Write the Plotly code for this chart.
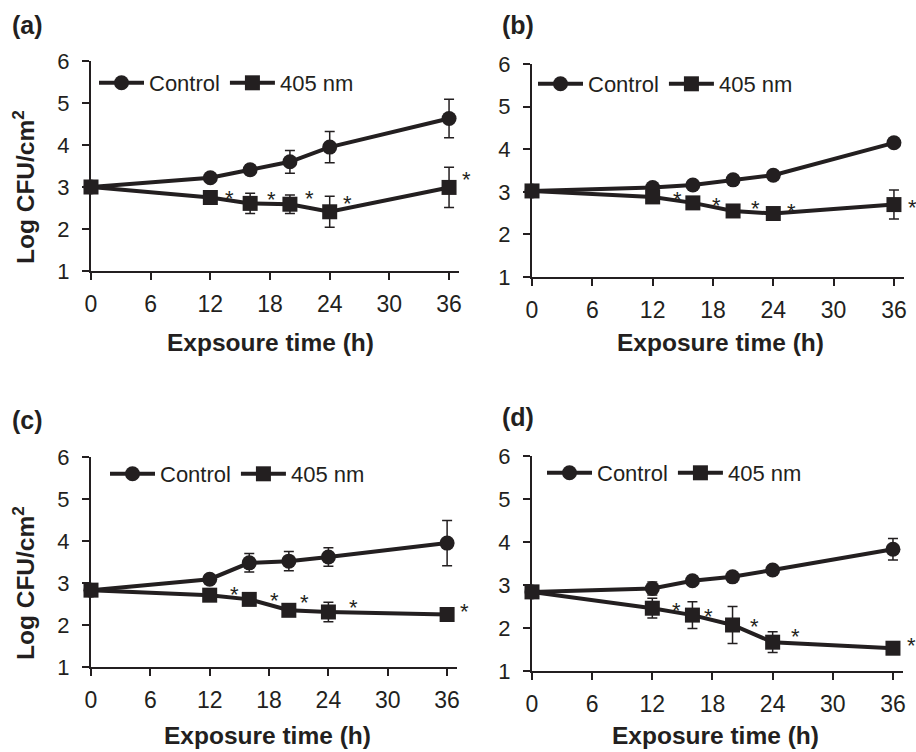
import plotly.graph_objects as go

W, H = 916, 752
FONT = "Arial, Liberation Sans, sans-serif"
INK = "#231F20"

hours = [0, 12, 16, 20, 24, 36]
x_ticks = [0, 6, 12, 18, 24, 30, 36]
y_ticks = [1, 2, 3, 4, 5, 6]

# panel (a)
a_ctrl = [3.00, 3.22, 3.41, 3.60, 3.95, 4.63]
a_ctrl_err = [0.0, 0.10, 0.12, 0.27, 0.37, 0.46]
a_blue = [3.00, 2.75, 2.61, 2.59, 2.41, 2.99]
a_blue_err = [0.0, 0.12, 0.24, 0.22, 0.37, 0.48]
a_star_x = [13.9, 18.1, 22.0, 25.8, 37.8]
a_star_y = [2.86, 2.84, 2.86, 2.76, 3.33]

# panel (b)
b_ctrl = [3.02, 3.10, 3.16, 3.28, 3.39, 4.15]
b_ctrl_err = [0.0, 0.08, 0.08, 0.08, 0.08, 0.10]
b_blue = [3.02, 2.88, 2.74, 2.55, 2.49, 2.70]
b_blue_err = [0.0, 0.08, 0.10, 0.12, 0.10, 0.34]
b_star_x = [14.45, 18.4, 22.2, 25.8, 37.8]
b_star_y = [2.97, 2.83, 2.74, 2.67, 2.77]

# panel (c)
c_ctrl = [2.83, 3.09, 3.48, 3.52, 3.62, 3.95]
c_ctrl_err = [0.0, 0.10, 0.22, 0.23, 0.22, 0.54]
c_blue = [2.83, 2.71, 2.61, 2.35, 2.31, 2.25]
c_blue_err = [0.0, 0.10, 0.10, 0.10, 0.23, 0.10]
c_star_x = [14.5, 18.5, 21.6, 26.5, 37.8]
c_star_y = [2.87, 2.73, 2.67, 2.56, 2.47]

# panel (d)
d_ctrl = [2.84, 2.92, 3.10, 3.19, 3.35, 3.83]
d_ctrl_err = [0.0, 0.15, 0.10, 0.10, 0.10, 0.25]
d_blue = [2.84, 2.46, 2.30, 2.07, 1.67, 1.53]
d_blue_err = [0.0, 0.23, 0.31, 0.43, 0.24, 0.10]
d_star_x = [14.4, 17.6, 22.2, 26.3, 37.85]
d_star_y = [2.55, 2.41, 2.18, 1.95, 1.74]

X_MAX = 37

panels = [
    dict(tag="(a)", ctrl=a_ctrl, ce=a_ctrl_err, blue=a_blue, be=a_blue_err,
         sx=a_star_x, sy=a_star_y, xt="Expsoure time (h)",
         xpx=(91, 459), ypx=(61, 271), tagpos=(27, 25), xtpos=(270, 342),
         ytpos=(23, 187), legpos=(94, 83)),
    dict(tag="(b)", ctrl=b_ctrl, ce=b_ctrl_err, blue=b_blue, be=b_blue_err,
         sx=b_star_x, sy=b_star_y, xt="Exposure time (h)",
         xpx=(532, 904), ypx=(64, 277), tagpos=(518, 25), xtpos=(720, 342),
         ytpos=None, legpos=(533, 84)),
    dict(tag="(c)", ctrl=c_ctrl, ce=c_ctrl_err, blue=c_blue, be=c_blue_err,
         sx=c_star_x, sy=c_star_y, xt="Exposure time (h)",
         xpx=(91, 457), ypx=(457, 667), tagpos=(27, 420), xtpos=(267, 735),
         ytpos=(23, 583), legpos=(105, 474)),
    dict(tag="(d)", ctrl=d_ctrl, ce=d_ctrl_err, blue=d_blue, be=d_blue_err,
         sx=d_star_x, sy=d_star_y, xt="Exposure time (h)",
         xpx=(532, 903), ypx=(456, 671), tagpos=(518, 417), xtpos=(715, 735),
         ytpos=None, legpos=(542, 473)),
]

fig = go.Figure()
annotations = []
layout = {}


def paper_text(text, px, py, size, angle=0):
    return dict(text=text, x=px / W, y=1 - py / H, xref="paper", yref="paper",
                xanchor="center", yanchor="middle", showarrow=False, textangle=angle,
                font=dict(family=FONT, size=size, color=INK))


for i, p in enumerate(panels):
    n = "" if i == 0 else str(i + 1)
    xa, ya = "x" + n, "y" + n
    leg = "legend" + n
    fig.add_trace(go.Scatter(
        x=hours, y=p["ctrl"], name="Control", xaxis=xa, yaxis=ya, legend=leg,
        mode="lines+markers", cliponaxis=False,
        line=dict(color=INK, width=4),
        marker=dict(symbol="circle", size=15, color=INK),
        error_y=dict(type="data", array=p["ce"], color=INK, thickness=1.5, width=5),
    ))
    fig.add_trace(go.Scatter(
        x=hours, y=p["blue"], name="405 nm", xaxis=xa, yaxis=ya, legend=leg,
        mode="lines+markers", cliponaxis=False,
        line=dict(color=INK, width=4),
        marker=dict(symbol="square", size=15, color=INK),
        error_y=dict(type="data", array=p["be"], color=INK, thickness=1.5, width=5),
    ))
    x0, x1 = p["xpx"]
    y0, y1 = p["ypx"]
    px_per_h = (x1 - x0) / X_MAX
    layout["xaxis" + n] = dict(
        domain=[x0 / W, x1 / W], range=[0, X_MAX], anchor=ya, automargin=False,
        tickvals=x_ticks, ticks="outside", ticklen=7, tickwidth=2, tickcolor=INK,
        showline=True, linewidth=2, linecolor=INK, showgrid=False, zeroline=False,
        tickfont=dict(family=FONT, size=23, color=INK), ticklabelstandoff=4,
    )
    layout["yaxis" + n] = dict(
        domain=[1 - y1 / H, 1 - y0 / H], range=[1, 6], anchor=xa, automargin=False,
        tickvals=y_ticks, ticks="outside", ticklen=7, tickwidth=2, tickcolor=INK,
        showline=True, linewidth=2, linecolor=INK, showgrid=False, zeroline=False,
        tickfont=dict(family=FONT, size=22, color=INK), ticklabelstandoff=8,
    )
    lx, ly = p["legpos"]
    layout[leg] = dict(
        x=lx / W, y=1 - ly / H, xanchor="left", yanchor="middle", orientation="h",
        font=dict(family=FONT, size=22, color=INK), bgcolor="rgba(0,0,0,0)",
        itemwidth=45, tracegroupgap=0, itemclick=False, itemdoubleclick=False,
    )
    annotations.append(paper_text("<b>%s</b>" % p["tag"], *p["tagpos"], 25))
    annotations.append(paper_text("<b>%s</b>" % p["xt"], *p["xtpos"], 24.5))
    if p["ytpos"]:
        annotations.append(paper_text("<b>Log CFU/cm<sup>2</sup></b>", *p["ytpos"], 24.5, -90))
    for sx, sy in zip(p["sx"], p["sy"]):
        # stars right of the axis end are anchored at the last tick and shifted in pixels
        ax_x = min(sx, 36)
        annotations.append(dict(text="*", x=ax_x, y=sy, xref=xa, yref=ya, showarrow=False,
                                xanchor="center", yanchor="middle",
                                xshift=(sx - ax_x) * px_per_h, yshift=-6,
                                font=dict(family=FONT, size=22, color=INK)))

fig.update_layout(
    template="none",
    width=W, height=H, margin=dict(l=0, r=0, t=0, b=0, pad=0, autoexpand=False),
    paper_bgcolor="white", plot_bgcolor="white",
    annotations=annotations, **layout,
)

fig.write_html(
    "out.html",
    config={"displayModeBar": False},
    post_script="document.body.style.margin='0';document.body.style.overflow='hidden';",
)
